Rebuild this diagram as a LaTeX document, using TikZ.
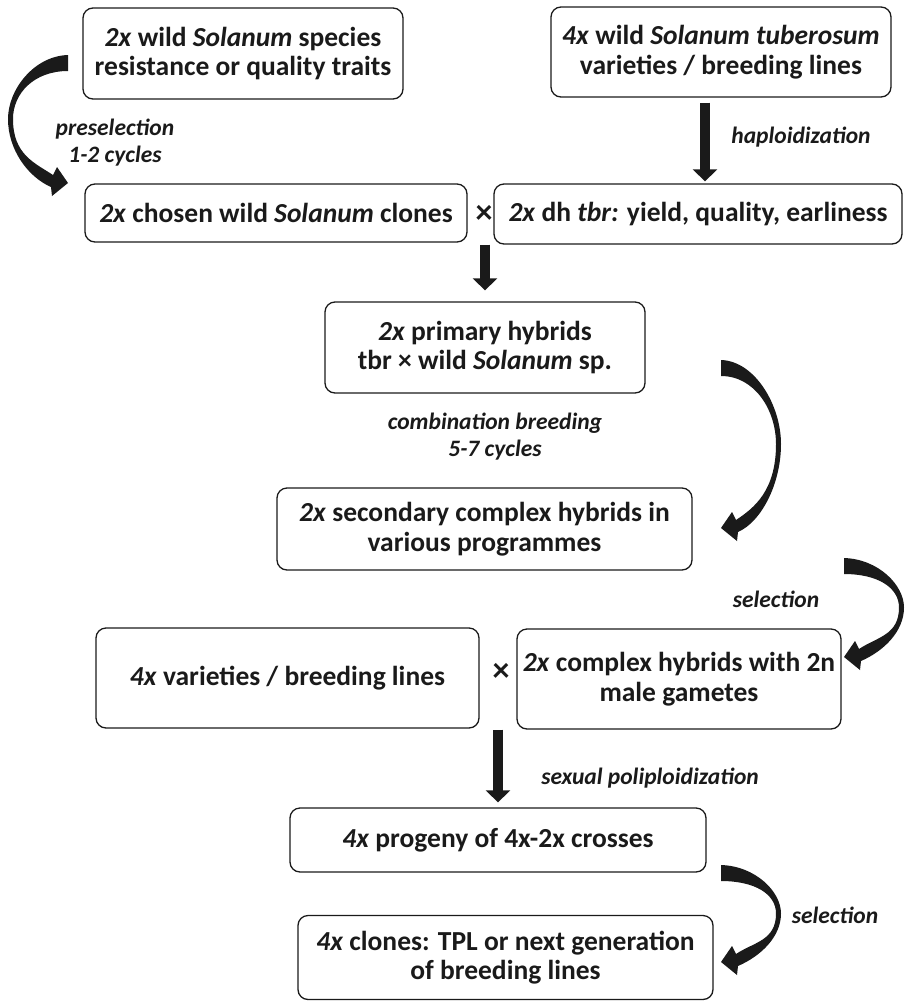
\documentclass[tikz,border=0pt]{standalone}
\usepackage{fontspec}
\setmainfont{Carlito}
\usetikzlibrary{arrows.meta,calc}
\definecolor{ink}{HTML}{1A1A1A}
\tikzset{
  box/.style={draw=ink, line width=1.3pt, rounded corners=10pt, align=center, inner sep=0pt,
    font=\fontsize{27.5}{29.5}\selectfont\bfseries, text=ink},
  lbl/.style={align=center, inner sep=0pt, font=\fontsize{23.5}{27}\selectfont\bfseries\itshape, text=ink},
  cross/.style={inner sep=0pt, font=\fontsize{34}{34}\selectfont\bfseries, text=ink},
  arr/.style={line width=10pt, draw=ink, -{Triangle[width=24pt,length=12pt]}},
  arrowfill/.style={fill=ink}
}
\newcommand\crescentarrow[4]{%
\begin{scope}[shift={(#1,#2)}, xscale=#4]
\fill[arrowfill] (0,0) .. controls (34,1) and (60,{0.27*#3}) .. (60,{0.5*#3})
  .. controls (60,{0.74*#3}) and (40,{#3-6}) .. (17,{#3+4})
  -- (16,{#3+13}) -- (0,#3) -- (11,{#3-16}) -- (15,{#3-8})
  .. controls (33,{#3-20}) and (55,{0.78*#3}) .. (55,{0.5*#3})
  .. controls (55,{0.3*#3}) and (34,16) .. (0,16) -- cycle;
\end{scope}}
\begin{document}
\begin{tikzpicture}[x=1pt,y=-1pt]
\useasboundingbox (0,0) rectangle (908,1002);
% boxes
\node[box, minimum width=320pt, minimum height=91pt] (b1) at (243,53.5)
  {\textit{2x} wild \textit{Solanum} species\\resistance or quality traits};
\node[box, minimum width=340pt, minimum height=90pt] (b2) at (721,52)
  {\textit{4x} wild \textit{Solanum tuberosum}\\varieties / breeding lines};
\node[box, minimum width=382pt, minimum height=58pt] (b3) at (276,213)
  {\textit{2x} chosen wild \textit{Solanum} clones};
\node[cross] (x1) at (484,214) {×};
\node[box, minimum width=408pt, minimum height=60pt] (b4) at (698,214)
  {\textit{2x} dh \textit{tbr:} yield, quality, earliness};
\node[box, minimum width=320pt, minimum height=91pt] (b5) at (485,347.5)
  {\textit{2x} primary hybrids\\tbr × wild \textit{Solanum} sp.};
\node[box, minimum width=415pt, minimum height=82pt] (b6) at (484.5,529)
  {\textit{2x} secondary complex hybrids in\\various programmes};
\node[box, minimum width=383pt, minimum height=100pt] (b7) at (287.5,678)
  {\textit{4x} varieties / breeding lines};
\node[cross] (x2) at (501,672) {×};
\node[box, minimum width=324pt, minimum height=100pt] (b8) at (679,679)
  {\textit{2x} complex hybrids with 2n\\male gametes};
\node[box, minimum width=416pt, minimum height=64pt] (b9) at (498,840)
  {\textit{4x} progeny of 4x-2x crosses};
\node[box, minimum width=415pt, minimum height=84pt] (b10) at (505.5,957.5)
  {\textit{4x} clones: TPL or next generation\\of breeding lines};
% labels
\node[lbl] (l1) at (115,143) {preselection\\1-2 cycles};
\node[lbl] (l2) at (801,137) {haploidization};
\node[lbl] (l3) at (495,437) {combination breeding\\5-7 cycles};
\node[lbl] (l4) at (776,599) {selection};
\node[lbl] (l5) at (650,778) {sexual poliploidization};
\node[lbl] (l6) at (835,915) {selection};
% straight arrows
\coordinate (s1) at (705,0);
\draw[arr, shorten <=5pt, shorten >=2pt] (b2.south -| s1) -- (b4.north -| s1);
\draw[arr, shorten >=11pt] (b5.north |- b4.south) -- (b5.north);
\draw[arr, shorten >=5pt] (b9.north |- b8.south) -- (b9.north);
% curved arrows
\crescentarrow{68}{55}{128}{-1}
\crescentarrow{721}{360}{168}{1}
\crescentarrow{844}{558}{99}{1}
\crescentarrow{721}{865}{97}{1}
\end{tikzpicture}
\end{document}
